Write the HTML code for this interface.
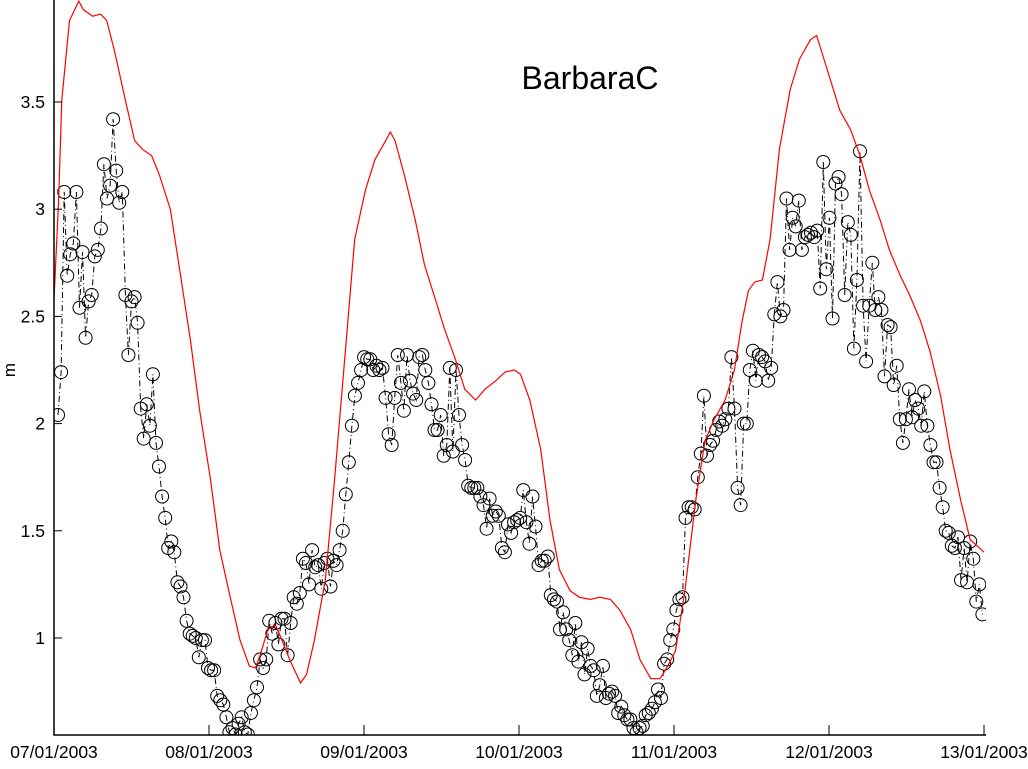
<!DOCTYPE html>
<html><head><meta charset="utf-8"><style>
html,body{margin:0;padding:0;background:#fff;}
svg text{font-family:"Liberation Sans",sans-serif;fill:#000;}
</style></head><body>
<svg id="chart" width="1028" height="764" viewBox="0 0 1028 764" xmlns="http://www.w3.org/2000/svg">
<text x="590" y="89" font-size="32" text-anchor="middle">BarbaraC</text>
<text x="10" y="375" font-size="17" text-anchor="middle" transform="rotate(-90 10 370)">m</text>
<g id="marks"></g>
</svg>
<script>
const xTickLabels=["07/01/2003","08/01/2003","09/01/2003","10/01/2003","11/01/2003","12/01/2003","13/01/2003"];
const yTicks=[1,1.5,2,2.5,3,3.5];
const redDays=[0,0.03,0.05,0.10,0.16,0.19,0.25,0.30,0.34,0.39,0.46,0.52,0.57,0.63,0.68,0.75,0.81,0.88,0.94,1.01,1.07,1.14,1.20,1.26,1.30,1.33,1.38,1.43,1.47,1.52,1.59,1.63,1.68,1.75,1.81,1.88,1.94,2.01,2.07,2.14,2.17,2.20,2.26,2.33,2.39,2.46,2.52,2.59,2.65,2.72,2.78,2.85,2.91,2.97,3.01,3.07,3.14,3.20,3.26,3.33,3.39,3.46,3.52,3.59,3.65,3.72,3.78,3.85,3.91,3.96,4.01,4.07,4.14,4.20,4.26,4.33,4.39,4.44,4.48,4.52,4.57,4.62,4.68,4.75,4.81,4.88,4.92,4.95,5.01,5.07,5.14,5.20,5.26,5.33,5.39,5.46,5.52,5.59,5.65,5.72,5.78,5.85,5.91,6.0];
const redValues=[2.58,3.04,3.51,3.88,3.97,3.93,3.90,3.91,3.88,3.74,3.51,3.32,3.28,3.25,3.16,3.00,2.72,2.39,2.06,1.74,1.41,1.18,0.99,0.87,0.86,0.92,1.04,1.06,0.99,0.90,0.79,0.83,0.99,1.27,1.74,2.34,2.86,3.09,3.23,3.32,3.36,3.32,3.16,2.95,2.74,2.58,2.44,2.30,2.16,2.11,2.16,2.20,2.24,2.25,2.23,2.11,1.88,1.55,1.32,1.22,1.19,1.18,1.19,1.18,1.13,1.04,0.90,0.81,0.81,0.87,0.94,1.22,1.64,1.92,2.02,2.11,2.25,2.48,2.62,2.66,2.67,2.86,3.28,3.56,3.70,3.79,3.81,3.74,3.60,3.46,3.37,3.25,3.09,2.95,2.81,2.69,2.60,2.48,2.34,2.13,1.88,1.64,1.46,1.40];
const obsStartDay=0.026, obsEndDay=5.99;
const obsValues=[2.04,2.24,3.08,2.69,2.79,2.84,3.08,2.54,2.80,2.40,2.57,2.60,2.78,2.81,2.91,3.21,3.05,3.11,3.42,3.18,3.03,3.08,2.60,2.32,2.57,2.59,2.47,2.07,1.93,2.09,1.99,2.23,1.91,1.80,1.66,1.56,1.42,1.45,1.40,1.26,1.24,1.19,1.08,1.02,1.01,1.00,0.91,0.99,0.99,0.86,0.85,0.85,0.73,0.71,0.69,0.63,0.56,0.58,0.55,0.60,0.63,0.56,0.55,0.65,0.71,0.77,0.90,0.86,0.90,1.08,1.02,1.07,0.97,1.09,1.09,0.92,1.07,1.19,1.16,1.21,1.37,1.35,1.25,1.41,1.33,1.34,1.23,1.35,1.37,1.24,1.36,1.34,1.41,1.50,1.67,1.82,1.99,2.13,2.19,2.25,2.31,2.30,2.30,2.25,2.27,2.25,2.26,2.12,1.95,1.90,2.12,2.32,2.19,2.06,2.32,2.20,2.14,2.11,2.31,2.32,2.25,2.19,2.09,1.97,1.97,2.04,1.85,1.90,2.26,1.87,2.25,2.04,1.90,1.83,1.71,1.70,1.70,1.70,1.66,1.62,1.51,1.65,1.57,1.59,1.57,1.42,1.40,1.53,1.49,1.54,1.55,1.56,1.69,1.54,1.44,1.66,1.52,1.34,1.36,1.36,1.38,1.20,1.18,1.17,1.04,1.12,1.04,0.99,0.92,1.07,0.89,0.98,0.83,0.95,0.87,0.85,0.73,0.78,0.87,0.72,0.74,0.75,0.73,0.65,0.68,0.64,0.62,0.62,0.58,0.56,0.58,0.59,0.64,0.65,0.67,0.70,0.76,0.72,0.88,0.90,0.99,1.04,1.13,1.18,1.19,1.56,1.61,1.61,1.60,1.75,1.86,2.13,1.85,1.90,1.92,1.97,2.01,1.99,2.02,2.07,2.31,2.07,1.70,1.62,2.00,2.00,2.25,2.34,2.20,2.32,2.31,2.29,2.20,2.26,2.51,2.66,2.50,2.53,3.05,2.81,2.96,2.92,3.04,2.81,2.87,2.88,2.89,2.87,2.90,2.63,3.22,2.72,2.96,2.49,3.12,3.15,3.07,2.60,2.94,2.88,2.35,2.67,3.27,2.55,2.29,2.55,2.75,2.53,2.59,2.53,2.22,2.46,2.45,2.18,2.27,2.02,1.91,2.02,2.16,2.03,2.11,2.07,1.99,2.15,1.99,1.90,1.82,1.82,1.70,1.61,1.50,1.49,1.43,1.42,1.47,1.27,1.42,1.26,1.45,1.37,1.17,1.25,1.11];

const X0=54, X1=984, Y0=735;
function xs(d){return X0+d*(X1-X0)/6;}
function ys(v){return 638-(v-1)*214.4;}
const NS="http://www.w3.org/2000/svg";
const svg=document.getElementById('chart');
const g=document.getElementById('marks');
function mk(tag,attrs,parent){const e=document.createElementNS(NS,tag);for(const k in attrs)e.setAttribute(k,attrs[k]);(parent||g).appendChild(e);return e;}

const defs=mk('defs',{},svg);
const cp=mk('clipPath',{id:'pc'},defs);
mk('rect',{x:X0,y:0,width:X1-X0+2,height:Y0},cp);
const plot=mk('g',{'clip-path':'url(#pc)'});



const n=obsValues.length;
const obsPts=obsValues.map((v,i)=>[xs(obsStartDay+i*(obsEndDay-obsStartDay)/(n-1)),ys(v)]);
const obsLine=mk('polyline',{points:obsPts.map(p=>p[0].toFixed(1)+','+p[1].toFixed(1)).join(' '),fill:'none',stroke:'#000','stroke-width':1,'stroke-dasharray':'6,3,1,3'},plot);


obsPts.forEach((p,i)=>{
  const c=mk('circle',{cx:p[0].toFixed(1),cy:p[1].toFixed(1),r:6.5,fill:'none',stroke:'#000','stroke-width':1},plot);
  
  
});
const red=mk('polyline',{points:redDays.map((d,i)=>xs(d).toFixed(1)+','+ys(redValues[i]).toFixed(1)).join(' '),fill:'none',stroke:'#ff0000','stroke-width':1.2},plot);



const ax=mk('path',{d:`M${X0},0 V${Y0} H${X1+2}`,fill:'none',stroke:'#000','stroke-width':1.5});


yTicks.forEach(t=>{
  const y=ys(t);
  mk('line',{x1:X0,x2:X0+8,y1:y,y2:y,stroke:'#000','stroke-width':1});
  const tx=mk('text',{x:X0-9,y:y+6,'font-size':17.5,'text-anchor':'end'});
  tx.textContent=String(t);
  
  
});
xTickLabels.forEach((l,i)=>{
  const x=xs(i);
  mk('line',{x1:x,x2:x,y1:Y0,y2:Y0-10,stroke:'#000','stroke-width':1});
  const tx=mk('text',{x:x,y:758,'font-size':17.5,'text-anchor':'middle'});
  tx.textContent=l;
  
  
});
</script>
</body></html>
